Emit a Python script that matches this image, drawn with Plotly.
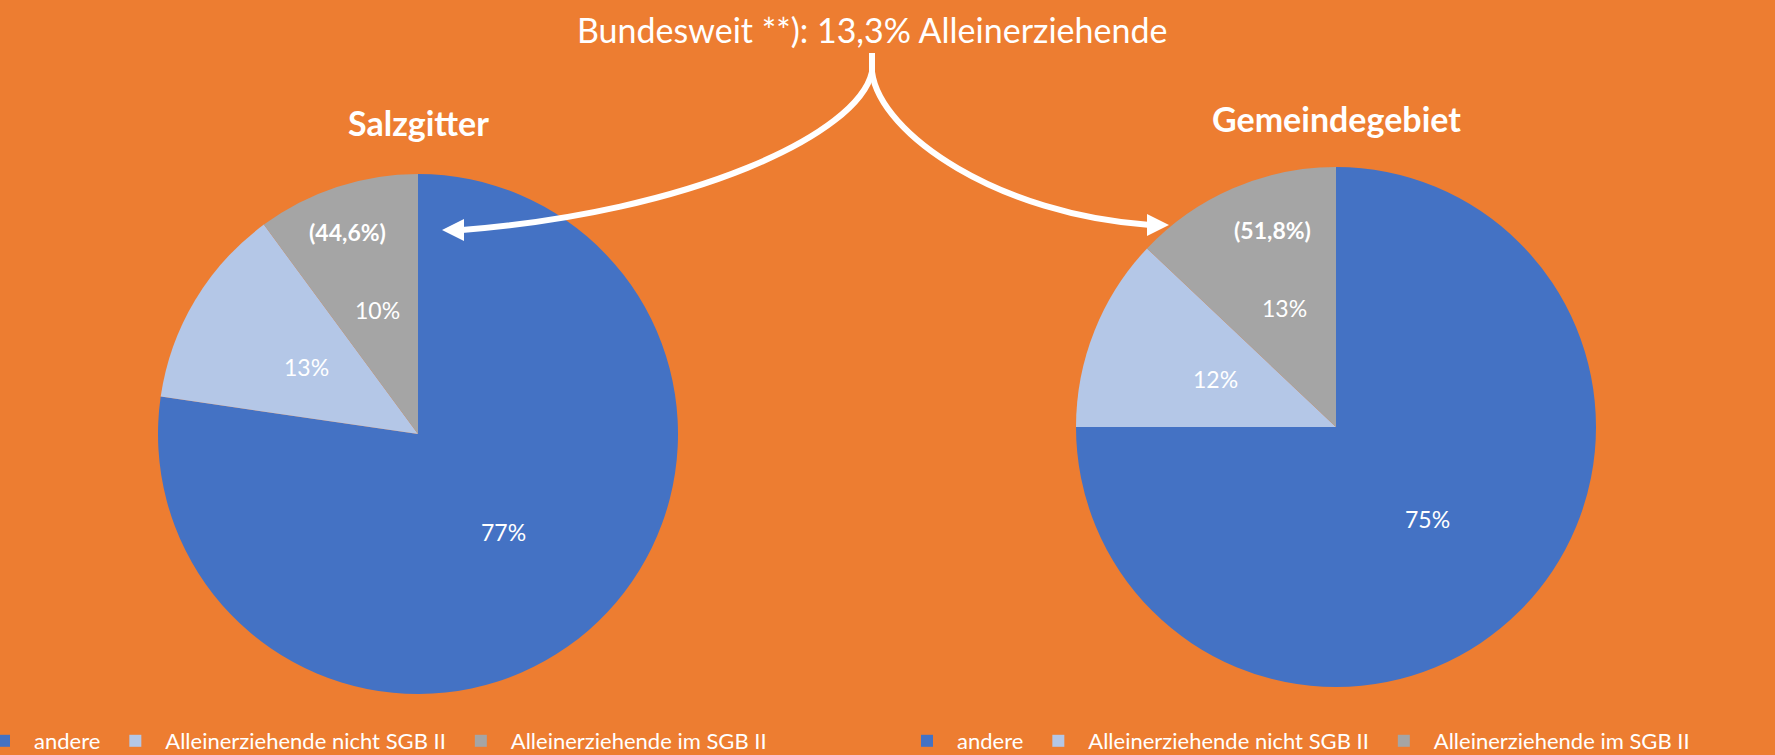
import math
import plotly.graph_objects as go

# ---------------- data ----------------
kategorien = ["andere", "Alleinerziehende nicht SGB II", "Alleinerziehende im SGB II"]
salzgitter = [77.3, 12.6, 10.1]
gemeindegebiet = [75.0, 12.05, 12.95]
pie_titel = ["Salzgitter", "Gemeindegebiet"]
sgb_anteil_text = ["(44,6%)", "(51,8%)"]
bund_text = "Bundesweit **): 13,3% Alleinerziehende"
farben = ["#4472C4", "#B4C7E7", "#A5A5A5"]

# ---------------- layout helpers ----------------
W, H = 1775, 755
BG = "#ED7D31"
FONT = "Lato"
R = 260
pies = [
    dict(values=salzgitter, name=pie_titel[0], cx=418, cy=434, legend="legend", group="g1"),
    dict(values=gemeindegebiet, name=pie_titel[1], cx=1336, cy=427, legend="legend2", group="g2"),
]


def px(x):
    return x / W


def py(y):
    return 1 - y / H


def pie_domain(cx, cy, r):
    return dict(x=[px(cx - r), px(cx + r)], y=[py(cy + r), py(cy - r)])


fig = go.Figure()
annotations = []

for p in pies:
    fig.add_trace(go.Pie(
        labels=kategorien, values=p["values"], name=p["name"],
        sort=False, direction="clockwise", rotation=0,
        marker=dict(colors=farben, line=dict(width=0)),
        textinfo="none", showlegend=True, legendgroup=p["group"],
        domain=pie_domain(p["cx"], p["cy"], R),
        legend=p["legend"], hoverinfo="label+percent",
    ))
    # data labels at half radius on each slice's bisector (Excel style)
    total = sum(p["values"])
    cum = 0.0
    for v in p["values"]:
        theta = 2 * math.pi * (cum + v / 2) / total
        cum += v
        lx = p["cx"] + 0.5 * R * math.sin(theta)
        ly = p["cy"] - 0.5 * R * math.cos(theta)
        annotations.append(dict(
            text="%d%%" % math.floor(100 * v / total + 0.5), x=px(lx), y=py(ly),
            xref="paper", yref="paper", showarrow=False,
            xanchor="center", yanchor="middle",
            font=dict(family=FONT, size=23, color="white")))

annotations += [
    dict(text=bund_text, x=px(872), y=py(29), xref="paper", yref="paper",
         showarrow=False, xanchor="center", yanchor="middle",
         font=dict(family=FONT, size=34, color="white")),
    dict(text="<b>%s</b>" % pie_titel[0], x=px(418), y=py(123), xref="paper", yref="paper",
         showarrow=False, xanchor="center", yanchor="middle",
         font=dict(family=FONT, size=34, color="white")),
    dict(text="<b>%s</b>" % pie_titel[1], x=px(1336), y=py(119), xref="paper", yref="paper",
         showarrow=False, xanchor="center", yanchor="middle",
         font=dict(family=FONT, size=34, color="white")),
    dict(text="<b>%s</b>" % sgb_anteil_text[0], x=px(347), y=py(232), xref="paper", yref="paper",
         showarrow=False, xanchor="center", yanchor="middle",
         font=dict(family=FONT, size=23, color="white")),
    dict(text="<b>%s</b>" % sgb_anteil_text[1], x=px(1272), y=py(230), xref="paper", yref="paper",
         showarrow=False, xanchor="center", yanchor="middle",
         font=dict(family=FONT, size=23, color="white")),
]


def path(cmds):
    out = []
    for c in cmds:
        if isinstance(c, str):
            out.append(c)
        else:
            out.append("%.5f,%.5f" % (px(c[0]), py(c[1])))
    return " ".join(out)


shapes = [
    # bracket stem + curves
    dict(type="path", xref="paper", yref="paper", layer="above",
         path=path(["M", (872, 53), "L", (872, 72), "C", (858, 135), (690, 212), (462, 230)]),
         line=dict(color="white", width=6)),
    dict(type="path", xref="paper", yref="paper", layer="above",
         path=path(["M", (872, 72), "C", (880, 135), (1000, 215), (1150, 225)]),
         line=dict(color="white", width=6)),
    # arrow heads
    dict(type="path", xref="paper", yref="paper", layer="above",
         path=path(["M", (442, 230), "L", (464, 219), "L", (464, 241), "Z"]),
         fillcolor="white", line=dict(color="white", width=0)),
    dict(type="path", xref="paper", yref="paper", layer="above",
         path=path(["M", (1169, 225), "L", (1147, 214), "L", (1147, 236), "Z"]),
         fillcolor="white", line=dict(color="white", width=0)),
]

legend_common = dict(orientation="h", traceorder="normal", yanchor="middle", y=py(741),
                     xanchor="left", bgcolor="rgba(0,0,0,0)", itemwidth=50,
                     font=dict(family=FONT, size=22, color="white"),
                     itemclick=False, itemdoubleclick=False)

fig.update_layout(
    width=W, height=H,
    margin=dict(l=0, r=0, t=0, b=0, autoexpand=False),
    paper_bgcolor=BG, plot_bgcolor=BG,
    font=dict(family=FONT, color="white"),
    showlegend=True,
    legend=dict(x=px(-26), **legend_common),
    legend2=dict(x=px(897), **legend_common),
    annotations=annotations,
    shapes=shapes,
)

fig.write_html("out.html", config={"responsive": False, "displayModeBar": False},
               post_script="document.body.style.margin='0px';document.body.style.overflow='hidden';")
